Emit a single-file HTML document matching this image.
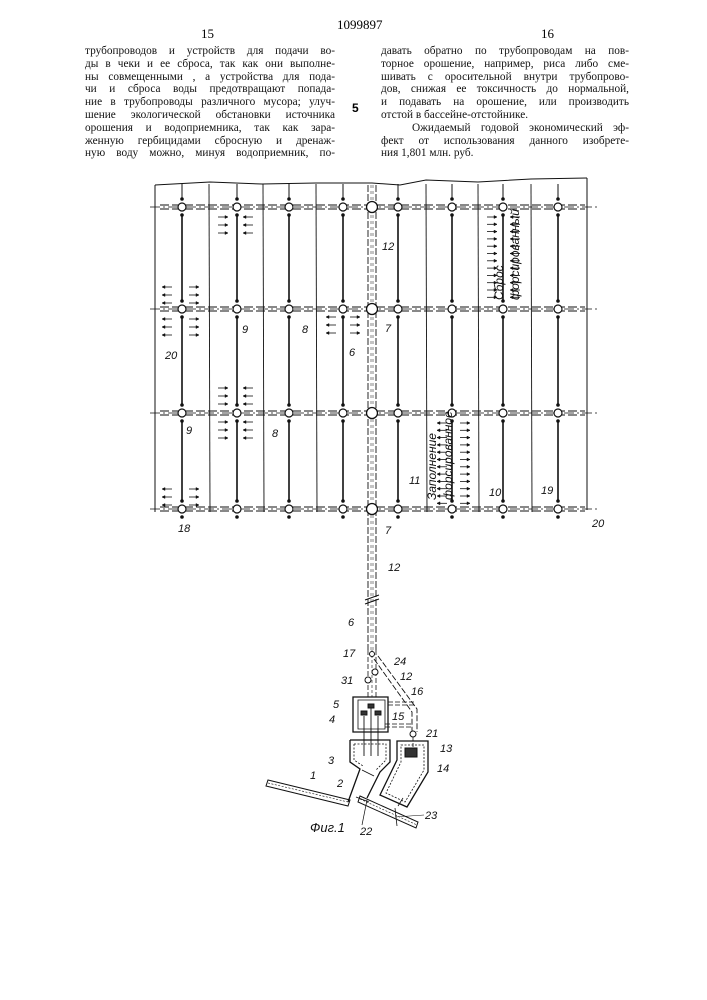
<!DOCTYPE html>
<html><head><meta charset="utf-8"><style>
html,body{margin:0;padding:0;background:#fff;}
.t{position:absolute;font-family:"Liberation Serif",serif;font-size:11.3px;line-height:12.8px;color:#111;}
.t div{white-space:nowrap;text-align:justify;text-align-last:justify;width:100%;height:12.8px;}
</style></head><body>
<div style="position:relative;width:707px;height:1000px;overflow:hidden">
<div style="position:absolute;left:337px;top:17px;font:13px 'Liberation Serif',serif">1099897</div>
<div style="position:absolute;left:201px;top:26px;font:13px 'Liberation Serif',serif">15</div>
<div style="position:absolute;left:541px;top:26px;font:13px 'Liberation Serif',serif">16</div>
<div style="position:absolute;left:352px;top:101px;font:bold 12px 'Liberation Sans',sans-serif">5</div>
<div class="t" style="left:85px;top:45px;width:250px"><div>трубопроводов и устройств для подачи во-</div><div>ды в чеки и ее сброса, так как они выполне-</div><div>ны совмещенными , а устройства для пода-</div><div>чи и сброса воды предотвращают попада-</div><div>ние в трубопроводы различного мусора; улуч-</div><div>шение экологической обстановки источника</div><div>орошения и водоприемника, так как зара-</div><div>женную гербицидами сбросную и дренаж-</div><div>ную воду можно, минуя водоприемник, по-</div></div>
<div class="t" style="left:381px;top:45px;width:248px"><div>давать обратно по трубопроводам на пов-</div><div>торное орошение, например, риса либо сме-</div><div>шивать с оросительной внутри трубопрово-</div><div>дов, снижая ее токсичность до нормальной,</div><div>и подавать на орошение, или производить</div><div style="text-align-last:left">отстой в бассейне-отстойнике.</div><div>&nbsp;&nbsp;&nbsp;Ожидаемый годовой экономический эф-</div><div>фект от использования данного изобрете-</div><div style="text-align-last:left">ния 1,801 млн. руб.</div></div>
<svg id="s" width="707" height="1000" style="position:absolute;left:0;top:0" font-family="Liberation Sans, sans-serif" font-style="italic" font-size="11">
<g id="g" stroke="#111" fill="none"></g>
<g fill="#111" stroke="none">
<text x="382" y="250">12</text><text x="242" y="333">9</text><text x="302" y="333">8</text><text x="385" y="332">7</text>
<text x="349" y="356">6</text><text x="165" y="359">20</text><text x="186" y="434">9</text><text x="272" y="437">8</text>
<text x="409" y="484">11</text><text x="489" y="496">10</text><text x="541" y="494">19</text><text x="178" y="532">18</text>
<text x="385" y="534">7</text><text x="592" y="527">20</text><text x="388" y="571">12</text><text x="348" y="626">6</text>
<text x="343" y="657">17</text><text x="394" y="665">24</text><text x="341" y="684">31</text><text x="400" y="680">12</text>
<text x="411" y="695">16</text><text x="333" y="708">5</text><text x="392" y="720">15</text><text x="329" y="723">4</text>
<text x="426" y="737">21</text><text x="328" y="764">3</text><text x="440" y="752">13</text><text x="437" y="772">14</text>
<text x="310" y="779">1</text><text x="337" y="787">2</text><text x="360" y="835">22</text><text x="425" y="819">23</text>
<text x="310" y="832" font-size="13">Фиг.1</text>
<text transform="translate(503,300) rotate(-90)" font-size="12">Сброс <tspan x="0" dy="16">форсированный</tspan></text>
<text transform="translate(436,500) rotate(-90)" font-size="12">Заполнение <tspan x="0" dy="16">форсированное</tspan></text>
</g>
</svg>
<script>
var g=document.getElementById('g'),NS='http://www.w3.org/2000/svg';
function el(t,a){var e=document.createElementNS(NS,t);for(var k in a)e.setAttribute(k,a[k]);g.appendChild(e);return e;}
function L(x1,y1,x2,y2,w,d){var a={x1:x1,y1:y1,x2:x2,y2:y2,'stroke-width':w||1};if(d)a['stroke-dasharray']=d;el('line',a);}
function P(d,w,f,da){var a={d:d,'stroke-width':w||1,fill:f||'none'};if(da)a['stroke-dasharray']=da;el('path',a);}
P('M155,185 L210,182 L262,184 L316,183 L372,183 L400,185 L426,180 L478,182 L531,179 L587,178',1);
L(155,185,155,512);L(587,178,587,510);
var ys=[207,309,413,509],nx=[182,237,289,343,398,452,503,558],dv=[209,263,316,426,478,531];
ys.forEach(function(y){L(150,y,600,y,0.7,'10 3 2 3');L(160,y-2,585,y-2,0.9,'9 3');L(160,y+2,585,y+2,0.9,'9 3');});
dv.forEach(function(x){L(x,184,x+1,512,0.9);});
nx.forEach(function(x){L(x,184,x,200,1);
for(var i=0;i<3;i++){L(x,ys[i]+9,x,ys[i+1]-9,1.6);}
ys.forEach(function(y){el('circle',{cx:x,cy:y,r:4,fill:'#fff','stroke-width':1.2});el('circle',{cx:x,cy:y-8,r:1.3,fill:'#111'});el('circle',{cx:x,cy:y+8,r:1.3,fill:'#111'});});});
L(368,185,368,650,0.9,'7 2');L(376,185,376,650,0.9,'7 2');
L(371,185,371,650,0.5,'3 3');L(373,185,373,650,0.5,'3 3');
[207,309,413,509].forEach(function(y){el('circle',{cx:372,cy:y,r:5.5,fill:'#fff','stroke-width':1.3});});
L(365,600,379,595,1);L(365,604,379,599,1);
function arr(x,y,dir){var l=10;L(x,y,x+l,y,0.8);if(dir>0){P('M'+(x+l)+','+y+' l-3,-1.5 l0,3z',0.5,'#111');}else{P('M'+x+','+y+' l3,-1.5 l0,3z',0.5,'#111');}}
function grp(x,y,n,dir,dy){for(var i=0;i<n;i++)arr(x,y+i*(dy||8),dir);}
grp(218,217,3,1);grp(243,217,3,-1);grp(162,287,3,-1);grp(189,287,3,1);grp(162,319,3,-1);grp(189,319,3,1);
grp(326,317,3,-1);grp(350,317,3,1);grp(218,388,3,1);grp(243,388,3,-1);grp(218,422,3,1);grp(243,422,3,-1);
grp(162,489,3,-1);grp(189,489,3,1);grp(487,217,12,1,7.3);grp(510,217,12,-1,7.3);grp(437,423,12,-1,7.3);grp(460,423,12,1,7.3);
// bottom device
L(368,650,368,697,0.8,'5 2');L(376,650,376,697,0.8,'5 2');L(372,650,372,697,0.6,'3 2');
el('circle',{cx:372,cy:654,r:2.5,fill:'#fff'});el('circle',{cx:375,cy:672,r:3,fill:'#fff'});el('circle',{cx:368,cy:680,r:3,fill:'#fff'});
P('M374,659 L412,712 L412,732',0.9,'none','6 2');P('M378,656 L417,709 L417,732',0.9,'none','6 2');
el('circle',{cx:413,cy:734,r:3,fill:'#fff'});L(413,737,413,748,0.8,'4 2');
P('M353,697 h35 v35 h-35z',1.3);P('M358,700 h27 v29 h-27z',0.8);
P('M388,702 h26 M388,705 h26 M385,724 h27 M385,727 h27',0.8,'none','5 2');
P('M361,715 h6 v-4 h-6z M368,708 h6 v-4 h-6z M375,715 h6 v-4 h-6z',0.9,'#333');
L(364,716,364,756,0.9);L(371,708,371,756,0.9);L(378,716,378,756,0.9);
// hopper 3
P('M350,740 H390 V762 L380,772 L367,798 M350,740 V762 L360,769 L348,802',1.3);
P('M354,744 H386 V760 L376,770 M354,744 V760 L363,766',0.8,'none','2 1.5');
P('M362,770 L374,776 M356,797 L369,802',0.9);
// hopper 13/14
P('M397,741 H428 V772 L407,807 L380,795 L397,760 Z',1.3);
P('M401,745 H424 V770 L405,802 L386,793 L401,762 Z',0.8,'none','2 1.5');
el('rect',{x:405,y:748,width:12,height:9,fill:'#333'});
// channels
P('M268,780 L350,800 L348,806 L266,786 Z',1);
P('M268,783 L348,802',0.6,'none','2 1.5');
P('M360,796 L418,822 L416,828 L358,802 Z',1);
P('M360,799 L417,825',0.6,'none','2 1.5');
P('M395,808 l2,18 M398,806 l5,-8',0.8);
L(367,800,362,825,0.7);L(395,817,424,815,0.6);
</script>
</div></body></html>
